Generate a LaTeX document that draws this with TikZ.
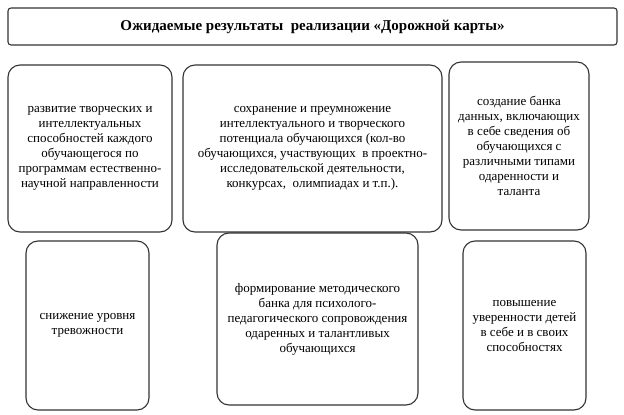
\documentclass[tikz,border=0pt]{standalone}
\usepackage{fontspec}
\setmainfont{Liberation Serif}
\begin{document}
\begin{tikzpicture}[x=1pt,y=-1pt,
  box/.style={draw=black!80, line width=1.1pt, rounded corners=12pt, align=center, inner sep=0pt,
    font=\fontsize{13}{15}\selectfont},
  titlebox/.style={draw=black!80, line width=1.1pt, rounded corners=3pt, align=center, inner sep=0pt,
    font=\fontsize{15}{17}\selectfont\bfseries}]
\useasboundingbox (0,0) rectangle (624,415);
\node[titlebox, minimum width=609pt, minimum height=37pt] (t) at (312.5,26.5)
  {Ожидаемые результаты\ \ реализации «Дорожной карты»};
\node[box, minimum width=164pt, minimum height=167pt] (b1) at (90,148.5)
  {развитие творческих и\\интеллектуальных\\способностей каждого\\обучающегося по\\программам естественно-\\научной направленности};
\node[box, minimum width=259pt, minimum height=167pt] (b2) at (312.5,148.5)
  {сохранение и преумножение\\интеллектуального и творческого\\потенциала обучающихся (кол-во\\обучающихся, участвующих\ \ в проектно-\\исследовательской деятельности,\\конкурсах,\ \ олимпиадах и т.п.).};
\node[box, minimum width=140pt, minimum height=168pt] (b3) at (519,146)
  {создание банка\\данных, включающих\\в себе сведения об\\обучающихся с\\различными типами\\одаренности и\\таланта};
\node[box, minimum width=123pt, minimum height=169pt] (b4) at (87.5,325.5)
  {снижение уровня\\тревожности};
\node[box, minimum width=201pt, minimum height=172pt] (b5) at (317.5,319)
  {формирование методического\\банка для психолого-\\педагогического сопровождения\\одаренных и талантливых\\обучающихся};
\node[box, minimum width=123pt, minimum height=169pt] (b6) at (524.5,325.5)
  {повышение\\уверенности детей\\в себе и в своих\\способностях};
\end{tikzpicture}
\end{document}
